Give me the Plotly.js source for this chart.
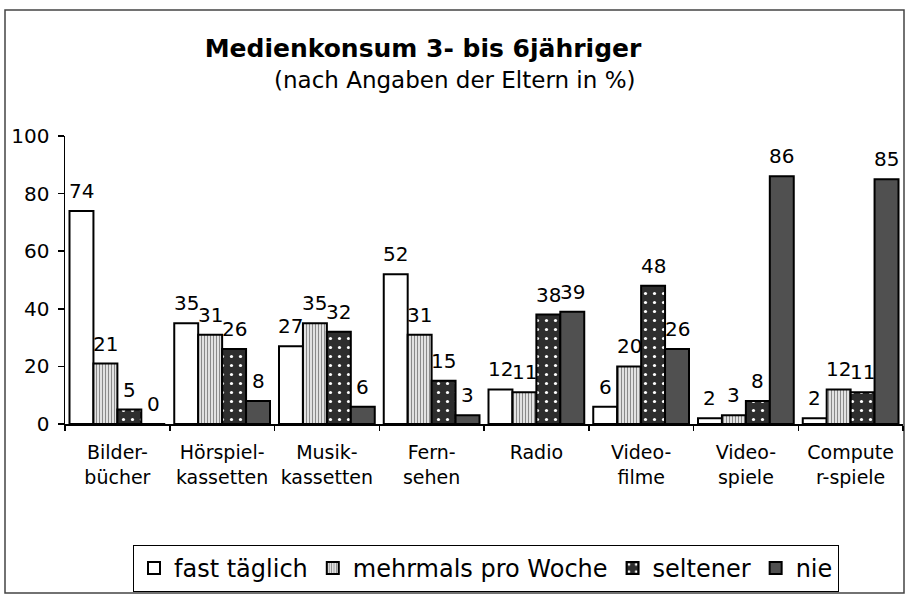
<!DOCTYPE html>
<html>
<head>
<meta charset="utf-8">
<script src="https://cdn.plot.ly/plotly-3.0.1.min.js"></script>
<style>html,body{margin:0;padding:0;background:#fff;}#chart{width:906px;height:600px;}</style>
</head>
<body>
<div id="chart"></div>
<script>
// ---- data ----
const categories = ['Bilder-<br>bücher', 'Hörspiel-<br>kassetten', 'Musik-<br>kassetten', 'Fern-<br>sehen', 'Radio', 'Video-<br>filme', 'Video-<br>spiele', 'Compute<br>r-spiele'];
const seriesNames = ['fast täglich', 'mehrmals pro Woche', 'seltener', 'nie'];
const fastTaeglich = [74, 35, 27, 52, 12, 6, 2, 2];
const mehrmals = [21, 31, 35, 31, 11, 20, 3, 12];
const seltener = [5, 26, 32, 15, 38, 48, 8, 11];
const nie = [0, 8, 6, 3, 39, 26, 86, 85];
const yTicks = [0, 20, 40, 60, 80, 100];
const titleText = '<b>Medienkonsum 3- bis 6jähriger</b>';
const subtitleText = '(nach Angaben der Eltern in %)';

// ---- layout geometry ----
const W = 906, H = 600;
const M = {l: 65, r: 3, t: 136, b: 176};
const plotW = W - M.l - M.r, plotH = H - M.t - M.b;
const px2x = p => (p - M.l) / plotW;
const px2y = p => (H - M.b - p) / plotH;
const bargap = 0.086;
const barPx = plotW / categories.length * (1 - bargap) / 4;

const FONT = 'DejaVu Sans, Arial, sans-serif';
const allSeries = [fastTaeglich, mehrmals, seltener, nie];
const markers = [
  {color: '#ffffff', line: {color: '#000', width: 2}},
  {color: '#d0d0d0', line: {color: '#000', width: 2},
   pattern: {shape: '|', fgcolor: '#8a8a8a', bgcolor: '#e2e2e2', size: 3, solidity: 0.35}},
  {color: '#2e2e2e', line: {color: '#000', width: 2},
   pattern: {shape: '.', fgcolor: '#ffffff', bgcolor: '#2e2e2e', size: 9, solidity: 0.1}},
  {color: '#505050', line: {color: '#000', width: 2}}
];

const traces = allSeries.map((vals, j) => ({
  type: 'bar',
  name: seriesNames[j],
  x: categories,
  y: vals,
  marker: markers[j],
  hoverinfo: 'x+y+name'
}));

const annotations = [];
allSeries.forEach((vals, j) => {
  vals.forEach((v, i) => {
    annotations.push({
      x: categories[i], y: v, xref: 'x', yref: 'y',
      text: String(v), showarrow: false,
      xanchor: 'center', yanchor: 'bottom',
      xshift: (j - 1.5) * barPx, yshift: 6,
      font: {family: FONT, size: 20, color: '#000'}
    });
  });
});
annotations.push({
  text: subtitleText, showarrow: false,
  xref: 'paper', yref: 'paper', x: px2x(454), y: px2y(80),
  xanchor: 'center', yanchor: 'middle',
  font: {family: FONT, size: 23, color: '#000'}
});

const layout = {
  width: W, height: H,
  margin: M,
  paper_bgcolor: '#fff', plot_bgcolor: '#fff',
  font: {family: FONT, color: '#000'},
  title: {
    text: titleText,
    font: {family: FONT, size: 25, color: '#000'},
    xref: 'container', yref: 'container',
    x: 423 / W, y: 1 - 48 / H, xanchor: 'center', yanchor: 'middle'
  },
  barmode: 'group', bargap: bargap, bargroupgap: 0,
  showlegend: true,
  legend: {
    orientation: 'h', x: px2x(133), xanchor: 'left', y: px2y(545), yanchor: 'top',
    bordercolor: '#000', borderwidth: 1, bgcolor: '#fff',
    font: {family: FONT, size: 24, color: '#000'},
    itemwidth: 30, traceorder: 'normal'
  },
  xaxis: {
    type: 'category',
    showline: true, linecolor: '#000', linewidth: 1.5,
    ticks: 'outside', tickson: 'boundaries', ticklen: 5, tickcolor: '#000', tickwidth: 1.5,
    showgrid: false, zeroline: false,
    tickfont: {family: FONT, size: 19, color: '#000'},
    ticklabelstandoff: 11,
    fixedrange: true
  },
  yaxis: {
    range: [0, 100], tickvals: yTicks,
    showline: true, linecolor: '#000', linewidth: 1.5,
    ticks: 'outside', ticklen: 6, tickcolor: '#000', tickwidth: 1.5,
    showgrid: false, zeroline: false,
    tickfont: {family: FONT, size: 20, color: '#000'},
    ticklabelstandoff: 4,
    fixedrange: true
  },
  annotations: annotations,
  shapes: [{
    type: 'rect', xref: 'paper', yref: 'paper',
    x0: px2x(5), x1: px2x(904), y0: px2y(593), y1: px2y(10),
    line: {color: '#444', width: 1.5}, fillcolor: 'rgba(0,0,0,0)', layer: 'below'
  }]
};

Plotly.newPlot('chart', traces, layout, {displayModeBar: false, staticPlot: true});
</script>
</body>
</html>
